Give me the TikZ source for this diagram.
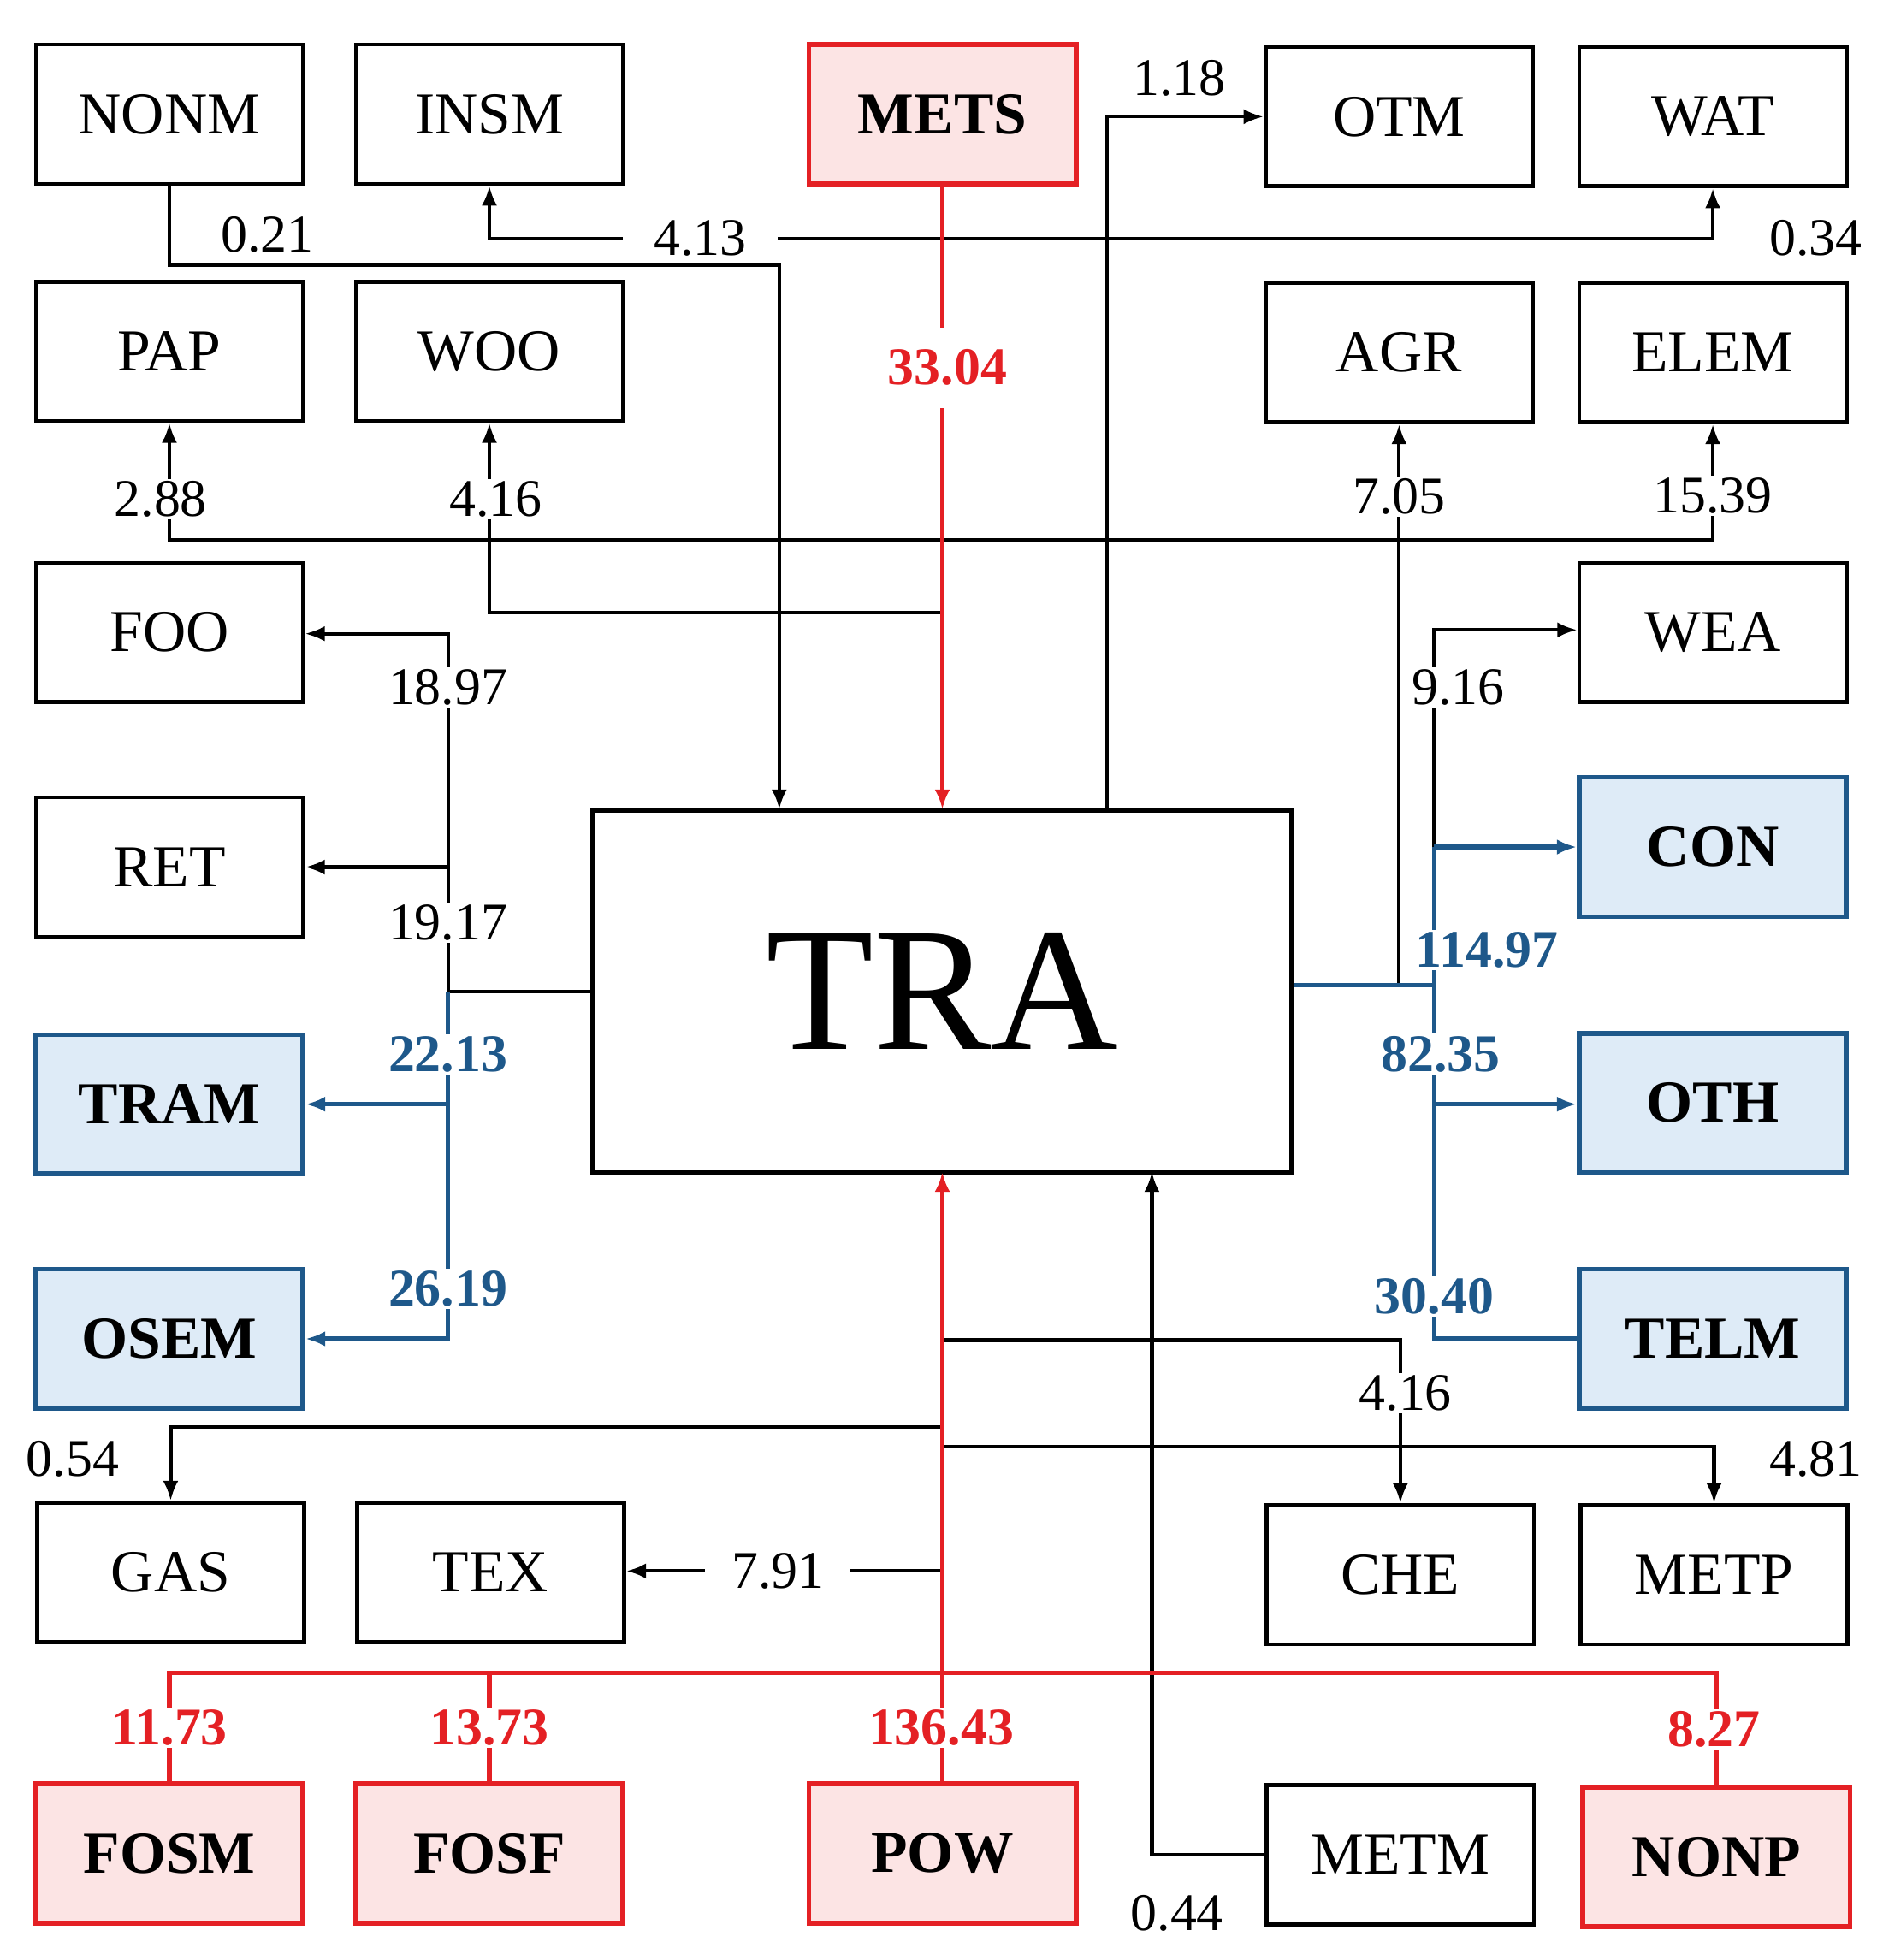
\documentclass[tikz,border=0pt]{standalone}
\usepackage{fontspec}
\setmainfont{Liberation Serif}
\usetikzlibrary{arrows.meta}
\definecolor{myred}{RGB}{228,32,36}
\definecolor{pinkf}{RGB}{252,228,228}
\definecolor{myblue}{RGB}{30,88,138}
\definecolor{bluef}{RGB}{222,235,247}
\begin{document}
\begin{tikzpicture}[x=0.02cm,y=-0.02cm,line width=1.6pt,
 box/.style={draw,line width=1.8pt,minimum width=4.26cm,minimum height=2.22cm,inner sep=0pt,font=\fontsize{27}{29}\selectfont},
 rbox/.style={box,draw=myred,line width=2.2pt,fill=pinkf,font=\fontsize{27}{29}\selectfont\bfseries},
 bbox/.style={box,draw=myblue,line width=2.2pt,fill=bluef,font=\fontsize{27}{29}\selectfont\bfseries},
 lab/.style={font=\fontsize{24}{26}\selectfont,inner sep=1pt},
 wlab/.style={lab,fill=white},
 rlab/.style={lab,fill=white,text=myred,font=\fontsize{24}{26}\selectfont\bfseries},
 blab/.style={lab,text=myblue,font=\fontsize{24}{26}\selectfont\bfseries},
 arr/.style={-{Latex[length=9pt,width=7pt]}},
 rl/.style={draw=myred,line width=2pt},
 bl/.style={draw=myblue,line width=2pt}]
\useasboundingbox (0,0) rectangle (1500,1562);
% boxes
\node[box] (NONM) at (135,91) {NONM};
\node[box] (INSM) at (390,91) {INSM};
\node[rbox] (METS) at (751,91) {METS};
\node[box] (OTM) at (1115,93) {OTM};
\node[box] (WAT) at (1365,93) {WAT};
\node[box] (PAP) at (135,280) {PAP};
\node[box] (WOO) at (390,280) {WOO};
\node[box] (AGR) at (1115,281) {AGR};
\node[box] (ELEM) at (1365,281) {ELEM};
\node[box] (FOO) at (135,504) {FOO};
\node[box] (WEA) at (1365,504) {WEA};
\node[box] (RET) at (135,691) {RET};
\node[bbox] (CON) at (1365,675) {CON};
\node[draw,line width=2.2pt,minimum width=11.14cm,minimum height=5.78cm,font=\fontsize{80}{80}\selectfont] (TRA) at (751,790) {TRA};
\node[bbox] (TRAM) at (135,880) {TRAM};
\node[bbox] (OTH) at (1365,879) {OTH};
\node[bbox] (OSEM) at (135,1067) {OSEM};
\node[bbox] (TELM) at (1365,1067) {TELM};
\node[box] (GAS) at (136,1253) {GAS};
\node[box] (TEX) at (391,1253) {TEX};
\node[box] (CHE) at (1116,1255) {CHE};
\node[box] (METP) at (1366,1255) {METP};
\node[rbox] (FOSM) at (135,1477) {FOSM};
\node[rbox] (FOSF) at (390,1477) {FOSF};
\node[rbox] (POW) at (751,1477) {POW};
\node[box] (METM) at (1116,1478) {METM};
\node[rbox] (NONP) at (1368,1480) {NONP};
% coordinates
\coordinate (a190) at (750,190);
\coordinate (a430) at (750,430);
\coordinate (a488) at (750,488);
\coordinate (b1068) at (751,1068);
\coordinate (b1137) at (751,1137);
\coordinate (b1153) at (751,1153);
\coordinate (b1252) at (751,1252);
\coordinate (r1333) at (751,1333);
\coordinate (L) at (357,790);
\coordinate (R) at (1143,785);
% top
\draw[arr] (NONM.south) |- (621,211) -- (621,645);
\draw[arr] (a190) -| (INSM.south);
\draw[arr] (a190) -| (WAT.south);
\draw[arr] (a430) -| (PAP.south);
\draw[arr] (a430) -| (ELEM.south);
\draw[arr] (a488) -| (WOO.south);
\draw[arr] (1115,785) -- (AGR.south);
\draw[arr] (882,645) |- (OTM.west);
\draw[rl,arr] (METS.south) -- (751,645);
% left
\draw (TRA.west |- L) -- (L);
\draw[arr] (L) -- (357,505) -- (FOO.east|-0,505);
\draw[arr] (357,691) -- (RET.east|-0,691);
\draw[bl,arr] (L) -- (357,1067) -- (OSEM.east|-0,1067);
\draw[bl,arr] (357,880) -- (TRAM.east);
% right
\draw[bl] (TRA.east |- R) -- (R);
\draw[arr] (1143,675) -- (1143,502) -- (WEA.west|-0,502);
\draw[bl] (1143,675) -- (1143,1067) -- (TELM.west);
\draw[bl,arr] (1143,675) -- (CON.west);
\draw[bl,arr] (1143,880) -- (OTH.west|-0,880);
% bottom
\draw[arr] (b1068) -| (CHE.north);
\draw[arr] (b1137) -| (GAS.north);
\draw[arr] (b1153) -| (METP.north);
\draw[arr] (b1252) -- (TEX.east|-0,1252);
\draw[arr] (METM.west) -| (918,934);
\draw[rl,arr] (POW.north) -- (751,934);
\draw[rl] (FOSM.north) |- (r1333) -| (NONP.north);
\draw[rl] (FOSF.north) -- (390,1333);
% labels
\node[lab] at (213,187) {0.21};
\node[wlab,inner xsep=14pt] at (558,190) {4.13};
\node[lab] at (1447,190) {0.34};
\node[rlab,inner ysep=10pt] at (755,293) {33.04};
\node[lab] at (940,62) {1.18};
\node[wlab] at (128,398) {2.88};
\node[wlab] at (395,398) {4.16};
\node[wlab] at (1115,396) {7.05};
\node[wlab] at (1365,395) {15.39};
\node[wlab] at (357,548) {18.97};
\node[wlab] at (357,735) {19.17};
\node[blab,fill=white] at (357,840) {22.13};
\node[blab,fill=white] at (357,1027) {26.19};
\node[wlab] at (1162,548) {9.16};
\node[blab,fill=white] at (1185,757) {114.97};
\node[blab,fill=white] at (1148,840) {82.35};
\node[blab,fill=white] at (1143,1033) {30.40};
\node[wlab] at (1120,1110) {4.16};
\node[lab] at (58,1163) {0.54};
\node[lab] at (1447,1163) {4.81};
\node[wlab,inner xsep=12pt] at (620,1252) {7.91};
\node[lab] at (938,1525) {0.44};
\node[rlab] at (750,1377) {136.43};
\node[rlab] at (135,1377) {11.73};
\node[rlab] at (390,1377) {13.73};
\node[rlab] at (1366,1378) {8.27};
\end{tikzpicture}
\end{document}
